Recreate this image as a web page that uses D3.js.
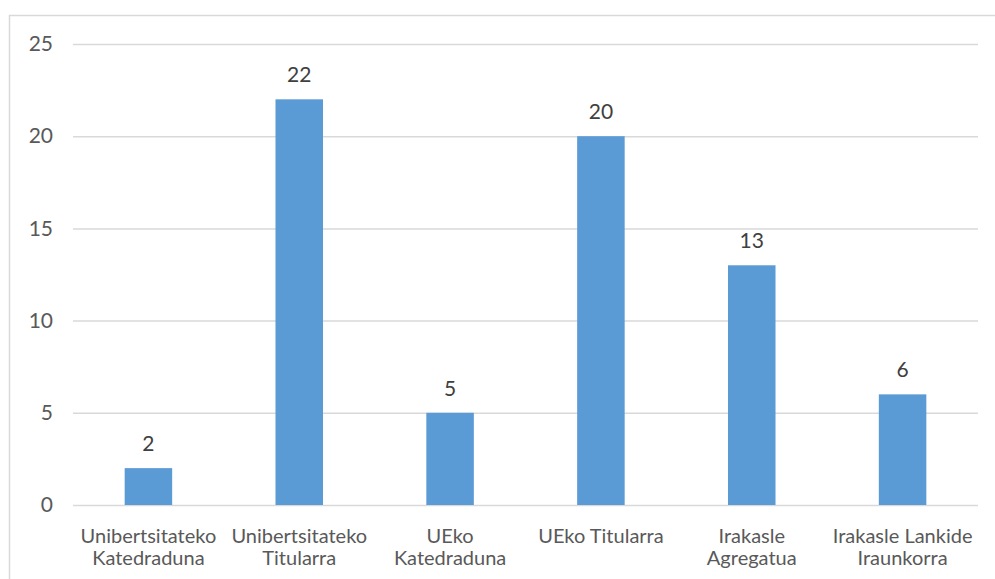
<html>
<head>
<style>
  body { margin: 0; background: #fff; }
  svg text { font-family: Lato, 'Open Sans', sans-serif; }
  .y .tick text { fill: #595959; font-size: 21px; }
  .x .tick text { fill: #595959; font-size: 20px; }
  .y .tick line { stroke: #d9d9d9; stroke-width: 1.5; }
  .domain { display: none; }
  .x .tick line { display: none; }
  .val { fill: #404040; font-size: 21px; text-anchor: middle; }
</style>
</head>
<body>
<svg width="995" height="579"></svg>
<script src="https://d3js.org/d3.v7.min.js"></script>
<script>
  let categories = [
    ["Unibertsitateko", "Katedraduna"],
    ["Unibertsitateko", "Titularra"],
    ["UEko", "Katedraduna"],
    ["UEko Titularra"],
    ["Irakasle", "Agregatua"],
    ["Irakasle Lankide", "Iraunkorra"]
  ]
  let values = [2, 22, 5, 20, 13, 6]
  let yTicks = [0, 5, 10, 15, 20, 25]

  let width = 995
  let height = 579
  let margin = {top: 44, right: 17, bottom: 74, left: 73}

  let svg = d3.select("svg")

  // chart frame
  svg.append("rect")
    .attr("x", 9.5).attr("y", 15.5)
    .attr("width", 1000).attr("height", 600)
    .attr("fill", "none")
    .attr("stroke", "#d9d9d9")
    .attr("stroke-width", 1.5)

  let keys = categories.map(d => d.join(" "))

  let x = d3.scaleBand()
    .domain(keys)
    .range([margin.left, width - margin.right])
    .paddingInner(0.685)
    .paddingOuter(0.3425)

  let y = d3.scaleLinear()
    .domain([0, 25])
    .range([height - margin.bottom, margin.top])

  svg.append("g")
    .attr("class", "y axis")
    .attr("transform", `translate(${margin.left},0)`)
    .call(d3.axisLeft(y)
      .tickValues(yTicks)
      .tickSize(-(width - margin.left - margin.right))
      .tickPadding(20))
    .attr("font-family", null)
    .attr("font-size", null)

  svg.append("g")
    .selectAll("rect")
    .data(values)
    .join("rect")
    .attr("x", (d, i) => x(keys[i]))
    .attr("y", d => y(d))
    .attr("width", x.bandwidth())
    .attr("height", d => y(0) - y(d))
    .attr("fill", "#5b9bd5")

  svg.append("g")
    .selectAll("text")
    .data(values)
    .join("text")
    .attr("class", "val")
    .attr("x", (d, i) => x(keys[i]) + x.bandwidth() / 2)
    .attr("y", d => y(d) - 17)
    .text(d => d)

  let xAxis = svg.append("g")
    .attr("class", "x axis")
    .attr("transform", `translate(0,${height - margin.bottom})`)
    .call(d3.axisBottom(x).tickSize(0).tickPadding(0))
    .attr("font-family", null)
    .attr("font-size", null)

  xAxis.selectAll(".tick text").each(function (d, i) {
    let t = d3.select(this).text(null).attr("y", 0).attr("dy", null)
    categories[i].forEach((line, j) => {
      t.append("tspan")
        .attr("x", 0)
        .attr("y", 38 + j * 22)
        .text(line)
    })
  })
</script>
</body>
</html>
